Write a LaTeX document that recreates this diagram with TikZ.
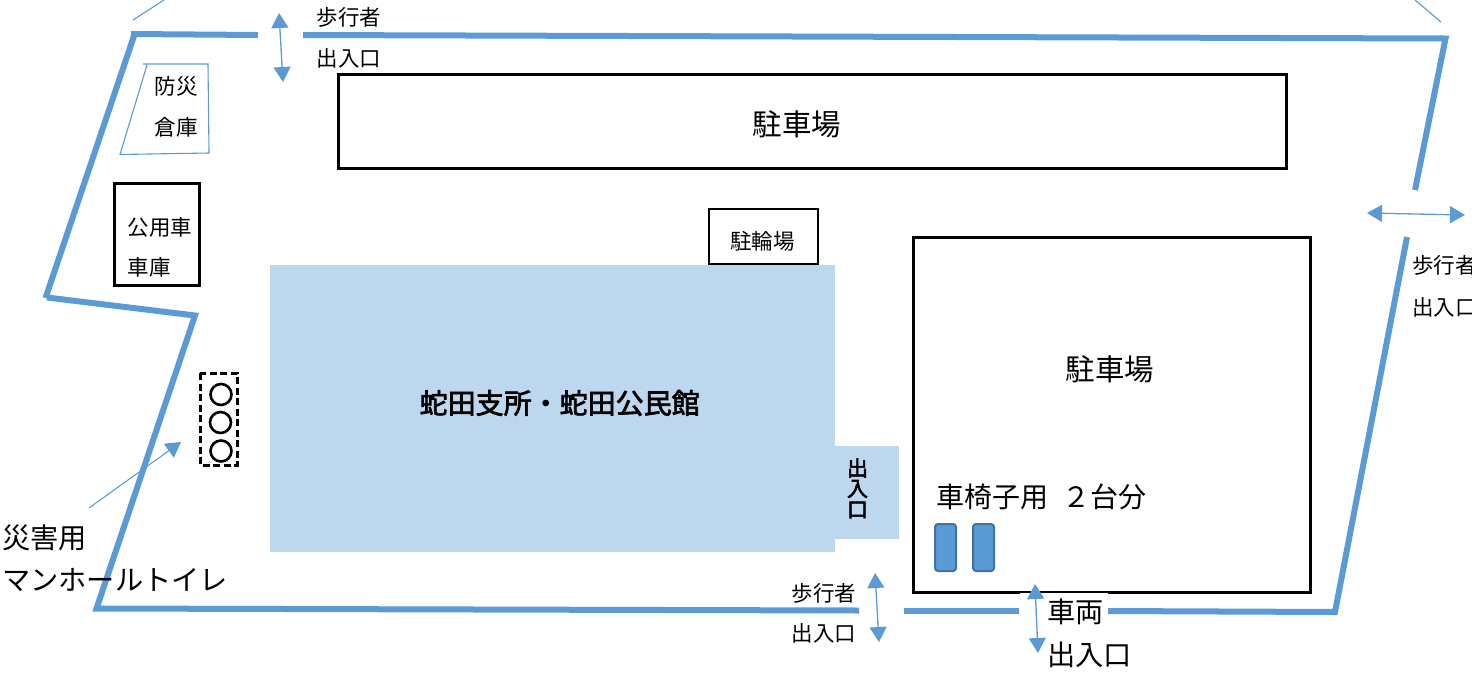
\documentclass[tikz,border=0pt]{standalone}
\usepackage{fontspec}
\setmainfont{Noto Sans CJK JP}
\newfontfamily\semibold[FakeBold=2.5]{Noto Sans CJK JP}
\usetikzlibrary{arrows.meta}
\definecolor{wallblue}{HTML}{5B9BD5}
\definecolor{lightblue}{HTML}{BDD7EE}
\definecolor{darkedge}{HTML}{41719C}
\tikzset{
  wall/.style={draw=wallblue,line width=6pt,line cap=butt,line join=miter},
  thinline/.style={draw=wallblue,line width=1.1pt},
  dblarrow/.style={draw=wallblue,line width=1.3pt,{Triangle[length=15pt,width=17pt,fill=wallblue]}-{Triangle[length=15pt,width=17pt,fill=wallblue]}},
  onearrow/.style={draw=wallblue,line width=1.1pt,-{Triangle[length=15pt,width=17pt,fill=wallblue]}},
  box/.style={draw=black,line width=3pt,fill=white},
  slot/.style={draw=darkedge,line width=2pt,fill=wallblue,rounded corners=3pt},
  hole/.style={draw=black,line width=2.6pt,circle,minimum size=21pt,inner sep=0pt},
  small/.style={anchor=west,inner sep=0pt,font=\fontsize{21.5}{21.5}\selectfont},
  big/.style={anchor=west,inner sep=0pt,font=\fontsize{28.2}{28.2}\selectfont},
}
\begin{document}
\begin{tikzpicture}[x=1pt,y=-1pt]
\useasboundingbox (0,0) rectangle (1472,675);
% building
\fill[lightblue] (270,265) rectangle (835,552);
\fill[lightblue] (835,446) rectangle (899,539);
% boxes
\draw[box] (338,74) rectangle (1286,168);
\draw[box] (913,237) rectangle (1310,592);
\draw[box] (114.5,183) rectangle (199,285);
\draw[draw=black,line width=2pt] (709,209) rectangle (818,264);
% storage
\draw[thinline] (143,64) -- (208,64) -- (209,153) -- (120,154.5) -- (147,65);
% walls
\draw[wall] (131,34) -- (258,35);
\draw[wall] (135,33) -- (45.5,298);
\draw[wall] (47,297.5) -- (195,315.5) -- (96.5,608.5) -- (859,610.5);
\draw[wall] (303,35) -- (1445.5,38.5) -- (1415,190);
\draw[wall] (1407,237) -- (1335,612) -- (1108,611);
\draw[wall] (1019,611) -- (904,611);
\fill[white] (1020,593) rectangle (1108,625);
% thin corner strokes
\draw[thinline] (133,20) -- (164,0);
\draw[thinline] (1415,0) -- (1441,22);
% manholes
\draw[draw=black,line width=3pt,dash pattern=on 7pt off 3.5pt] (200,373) rectangle (237,465);
\node[hole] (h1) at (221,394.5) {};
\node[hole] (h2) at (220.5,422.5) {};
\node[hole] (h3) at (221,451) {};
% wheelchair slots
\draw[slot] (935,524) rectangle (956,571);
\draw[slot] (973,524) rectangle (994,571);
% arrows
\coordinate (a1s) at (279,13); \coordinate (a1e) at (283,82);
\coordinate (a2s) at (1367,213); \coordinate (a2e) at (1465,215);
\coordinate (a3s) at (875,573); \coordinate (a3e) at (879,642);
\coordinate (a4s) at (1035,584); \coordinate (a4e) at (1038,653);
\coordinate (a5s) at (89,508); \coordinate (a5e) at (181,442);
\draw[dblarrow] (a1s) -- (a1e);
\draw[dblarrow] (a2s) -- (a2e);
\draw[dblarrow] (a3s) -- (a3e);
\draw[dblarrow] (a4s) -- (a4e);
\draw[onearrow] (a5s) -- (a5e);
% text
\node[small] (t1) at (316.5,17) {歩行者};
\node[small] (t2) at (316.5,58) {出入口};
\node[small] (t3) at (1412,265.5) {歩行者};
\node[small] (t4) at (1412,307) {出入口};
\node[small] (t5) at (791.5,593) {歩行者};
\node[small] (t6) at (791.5,633) {出入口};
\node[small] (t7) at (154.5,86) {防災};
\node[small] (t8) at (154.5,127) {倉庫};
\node[small] (t9) at (127.5,227) {公用車};
\node[small] (t10) at (127.5,267) {車庫};
\node[small] (t11) at (730,241) {駐輪場};
\node[big,font=\fontsize{29.5}{29.5}\selectfont] (t12) at (752.5,124.5) {駐車場};
\node[big,font=\fontsize{29.5}{29.5}\selectfont] (t13) at (1065.5,369.5) {駐車場};
\node[big,font=\semibold\fontsize{28}{28}\selectfont] (t14) at (419.5,403) {蛇田支所・蛇田公民館};
\node[big,font=\fontsize{28}{28}\selectfont] (t15) at (936,497) {車椅子用};
\node[big,font=\fontsize{28}{28}\selectfont] (t16) at (1062.5,497) {２台分};
\node[big] (t17) at (1047,612) {車両};
\node[big] (t18) at (1047,655) {出入口};
\node[big] (t19) at (2,538) {災害用};
\node[big] (t20) at (2,580) {マンホールトイレ};
\node[anchor=center,inner sep=0pt,font=\semibold\fontsize{21}{21}\selectfont] (t21) at (857.5,468) {出};
\node[anchor=center,inner sep=0pt,font=\semibold\fontsize{21}{21}\selectfont] (t22) at (857.5,489) {入};
\node[anchor=center,inner sep=0pt,font=\semibold\fontsize{21}{21}\selectfont] (t23) at (857.5,510) {口};
\end{tikzpicture}
\end{document}
